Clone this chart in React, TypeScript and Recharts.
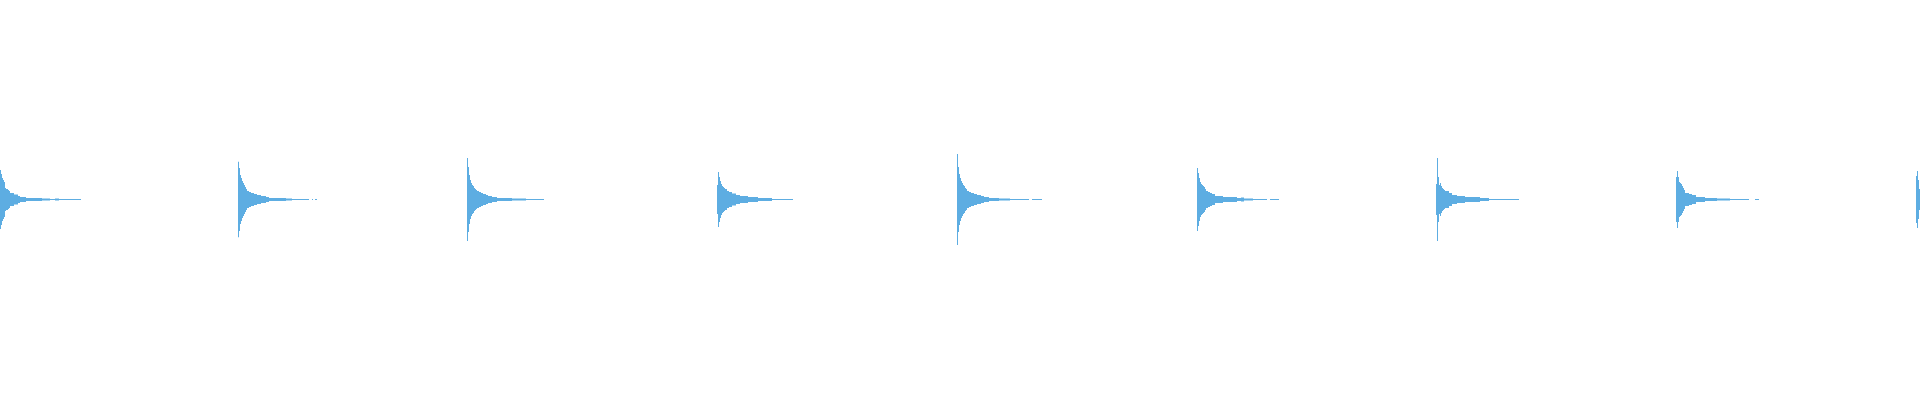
import { AreaChart, Area, XAxis, YAxis } from 'recharts'

// waveform envelope, one list per hit: [column, amplitude] held until the next column
const hit1 = [
  [0, 0.148], [1, 0.128], [2, 0.108], [3, 0.098], [4, 0.088], [5, 0.058], [6, 0.053],
  [8, 0.048], [9, 0.043], [10, 0.033], [14, 0.025], [18, 0.018], [20, 0.013], [26, 0.008],
  [42, 0.005], [50, 0.003], [55, 0.005], [59, 0.003], [81, 0],
]
const hit2 = [
  [238, 0.189], [239, 0.158], [240, 0.123], [241, 0.108], [242, 0.093], [243, 0.083],
  [244, 0.073], [245, 0.063], [246, 0.053], [247, 0.043], [249, 0.038], [251, 0.033],
  [254, 0.028], [257, 0.023], [261, 0.018], [266, 0.013], [269, 0.008], [286, 0.005],
  [292, 0.003], [309, 0], [312, 0.003], [313, 0], [315, 0.003], [317, 0],
]
const hit3 = [
  [467, 0.208], [468, 0.163], [469, 0.123], [470, 0.098], [471, 0.083], [472, 0.073],
  [473, 0.068], [474, 0.058], [475, 0.053], [476, 0.048], [477, 0.043], [479, 0.038],
  [481, 0.033], [483, 0.028], [486, 0.023], [488, 0.018], [492, 0.013], [497, 0.008],
  [512, 0.005], [526, 0.003], [544, 0],
]
const hit4 = [
  [717, 0.073], [718, 0.138], [719, 0.113], [720, 0.093], [721, 0.078], [722, 0.068],
  [723, 0.063], [724, 0.058], [725, 0.053], [727, 0.043], [729, 0.038], [732, 0.030],
  [736, 0.023], [740, 0.018], [748, 0.013], [758, 0.008], [772, 0.003], [793, 0],
]
const hit5 = [
  [957, 0.228], [958, 0.163], [959, 0.128], [960, 0.108], [961, 0.093], [962, 0.083],
  [963, 0.073], [964, 0.068], [965, 0.058], [966, 0.053], [967, 0.043], [969, 0.038],
  [971, 0.033], [974, 0.028], [977, 0.023], [981, 0.018], [984, 0.013], [989, 0.008],
  [999, 0.005], [1010, 0.003], [1029, 0], [1032, 0.003], [1042, 0],
]
const hit6 = [
  [1197, 0.158], [1198, 0.133], [1199, 0.108], [1200, 0.088], [1201, 0.078], [1202, 0.073],
  [1203, 0.068], [1204, 0.063], [1205, 0.053], [1206, 0.043], [1208, 0.038], [1210, 0.033],
  [1212, 0.028], [1215, 0.018], [1223, 0.013], [1237, 0.008], [1241, 0.010], [1244, 0.005],
  [1253, 0.003], [1267, 0], [1270, 0.003], [1279, 0],
]
const hit7 = [
  [1436, 0.078], [1437, 0.208], [1438, 0.113], [1439, 0.073], [1440, 0.083], [1441, 0.068],
  [1442, 0.058], [1443, 0.053], [1444, 0.048], [1445, 0.043], [1449, 0.033], [1452, 0.023],
  [1457, 0.018], [1465, 0.013], [1480, 0.008], [1489, 0.003], [1519, 0],
]
const hit8 = [
  [1676, 0.113], [1677, 0.143], [1678, 0.113], [1679, 0.088], [1680, 0.083], [1681, 0.078],
  [1682, 0.068], [1683, 0.058], [1684, 0.048], [1685, 0.033], [1689, 0.028], [1692, 0.023],
  [1696, 0.013], [1705, 0.008], [1717, 0.005], [1730, 0.003], [1749, 0], [1755, 0.003],
  [1759, 0],
]
const hit9 = [
  [1916, 0.118], [1917, 0.143], [1918, 0.098], [1919, 0.053], [1920, 0],
]

const hits = [hit1, hit2, hit3, hit4, hit5, hit6, hit7, hit8, hit9]

const data = hits.flat().map(([t, a]) => ({ t, band: [-a, a] }))

export default function App() {
  return (
    <div style={{ position: 'fixed', left: 0, top: 0, width: 1920, height: 400, background: '#fff' }}>
      <AreaChart width={1920} height={399} data={data} margin={{ top: 0, right: 0, bottom: 0, left: 0 }}>
        <XAxis dataKey="t" type="number" domain={[0, 1920]} hide allowDataOverflow />
        <YAxis type="number" domain={[-1, 1]} hide allowDataOverflow />
        <Area
          dataKey="band"
          type="stepAfter"
          stroke="none"
          fill="#5dade2"
          fillOpacity={1}
          dot={false}
          activeDot={false}
          isAnimationActive={false}
        />
      </AreaChart>
    </div>
  )
}
